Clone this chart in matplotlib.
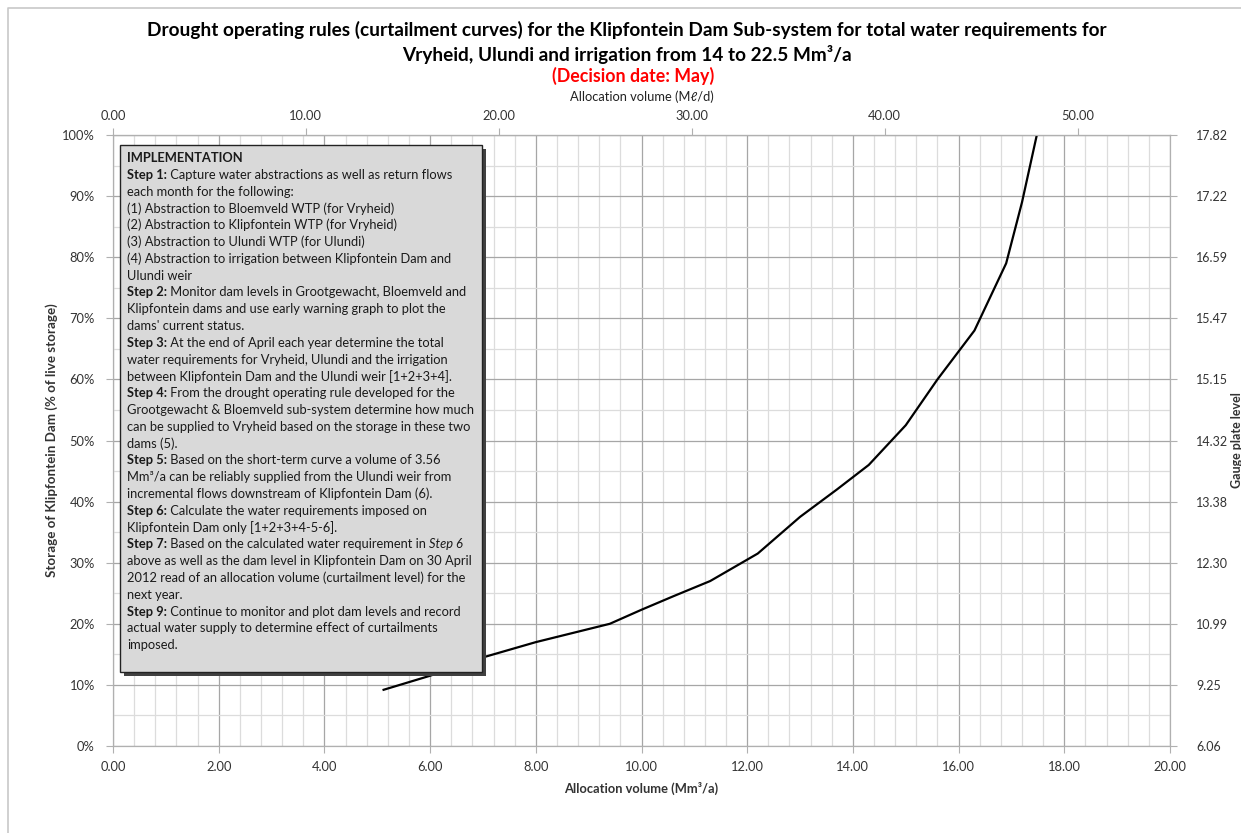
import matplotlib
matplotlib.use("Agg")
import matplotlib.pyplot as plt
from matplotlib.patches import Rectangle
from matplotlib.lines import Line2D
from matplotlib.text import Annotation
from matplotlib.ticker import MultipleLocator, FuncFormatter

plt.rcParams['font.family'] = ['Lato', 'DejaVu Sans']

# curtailment curve: allocation volume (Mm3/a) vs storage (% of live storage)
alloc = [5.12, 6.0, 7.0, 8.0, 9.4, 10.0, 10.6, 11.3, 12.2, 13.0, 13.7, 14.3,
         15.0, 15.6, 16.3, 16.9, 17.2, 17.48]
storage = [9.2, 11.5, 14.5, 17.0, 20.0, 22.3, 24.5, 27.0, 31.5, 37.5, 42.0, 46.0,
           52.5, 60.0, 68.0, 79.0, 89.0, 100.0]

storage_ticks = [0, 10, 20, 30, 40, 50, 60, 70, 80, 90, 100]
gauge_labels = ["6.06", "9.25", "10.99", "12.30", "13.38", "14.32", "15.15",
                "15.47", "16.59", "17.22", "17.82"]

# (bold part, normal part, italic tail)
box_lines = [
    ("IMPLEMENTATION", "", ""),
    ("Step 1:", " Capture water abstractions as well as return flows", ""),
    ("", "each month for the following:", ""),
    ("", "(1) Abstraction to Bloemveld WTP (for Vryheid)", ""),
    ("", "(2) Abstraction to Klipfontein WTP (for Vryheid)", ""),
    ("", "(3) Abstraction to Ulundi WTP (for Ulundi)", ""),
    ("", "(4) Abstraction to irrigation between Klipfontein Dam and", ""),
    ("", "Ulundi weir", ""),
    ("Step 2:", " Monitor dam levels in Grootgewacht, Bloemveld and", ""),
    ("", "Klipfontein dams and use early warning graph to plot the", ""),
    ("", "dams' current status.", ""),
    ("Step 3:", " At the end of April each year determine the total", ""),
    ("", "water requirements for Vryheid, Ulundi and the irrigation", ""),
    ("", "between Klipfontein Dam and the Ulundi weir [1+2+3+4].", ""),
    ("Step 4:", " From the drought operating rule developed for the", ""),
    ("", "Grootgewacht & Bloemveld sub-system determine how much", ""),
    ("", "can be supplied to Vryheid based on the storage in these two", ""),
    ("", "dams (5).", ""),
    ("Step 5:", " Based on the short-term curve a volume of 3.56", ""),
    ("", "Mm\u00b3/a can be reliably supplied from the Ulundi weir from", ""),
    ("", "incremental flows downstream of Klipfontein Dam (6).", ""),
    ("Step 6:", " Calculate the water requirements imposed on", ""),
    ("", "Klipfontein Dam only [1+2+3+4-5-6].", ""),
    ("Step 7:", " Based on the calculated water requirement in ", "Step 6"),
    ("", "above as well as the dam level in Klipfontein Dam on 30 April", ""),
    ("", "2012 read of an allocation volume (curtailment level) for the", ""),
    ("", "next year.", ""),
    ("Step 9:", " Continue to monitor and plot dam levels and record", ""),
    ("", "actual water supply to determine effect of curtailments", ""),
    ("", "imposed.", ""),
]

W, H = 1241, 833
fig = plt.figure(figsize=(W / 100, H / 100), dpi=100)
ax = fig.add_axes([113 / W, 1 - 746 / H, (1170 - 113) / W, (746 - 135) / H])

# outer chart border (left and top edges visible)
fig.add_artist(Line2D([8 / W, 8 / W, 1], [0, 1 - 8 / H, 1 - 8 / H], transform=fig.transFigure,
                      color="#c8c8c8", linewidth=1.2))

ax.plot(alloc, storage, color="black", linewidth=1.6, zorder=3)
ax.set_xlim(0, 20)
ax.set_ylim(0, 100)
ax.xaxis.set_major_locator(MultipleLocator(2))
ax.xaxis.set_minor_locator(MultipleLocator(0.4))
ax.yaxis.set_major_locator(MultipleLocator(10))
ax.yaxis.set_minor_locator(MultipleLocator(5))
ax.xaxis.set_major_formatter(FuncFormatter(lambda v, p: "%.2f" % v))
ax.yaxis.set_major_formatter(FuncFormatter(lambda v, p: "%d%%" % v))
ax.grid(which="major", color="#a6a6a6", linewidth=0.9)
ax.grid(which="minor", color="#dcdcdc", linewidth=0.9)
ax.set_axisbelow(True)
ax.tick_params(which="both", length=0, labelsize=9.3, colors="#333333", pad=8)
ax.tick_params(axis="x", which="major", length=5, color="#b0b0b0", pad=6)
ax.tick_params(axis="y", which="major", length=5, color="#b0b0b0")
for s in ax.spines.values():
    s.set_color("#b0b0b0")
ax.set_xlabel("Allocation volume (Mm\u00b3/a)", fontsize=9.3, fontweight="bold", color="#333333", labelpad=6)
ax.set_ylabel("Storage of Klipfontein Dam (% of live storage)", fontsize=9.6, fontweight="bold",
              color="#333333")
ax.yaxis.set_label_coords((58 - 113) / (1170 - 113), 0.5)

# top axis in Ml/d
top = ax.secondary_xaxis("top", functions=(lambda v: v * 1000 / 365, lambda v: v * 365 / 1000))
top.set_xticks([0, 10, 20, 30, 40, 50])
top.xaxis.set_major_formatter(FuncFormatter(lambda v, p: "%.2f" % v))
top.tick_params(length=5, color="#b0b0b0", labelsize=9.3, labelcolor="#333333", pad=4)
top.spines["top"].set_color("#b0b0b0")
top.set_xlabel("Allocation volume (M\u2113/d)", fontsize=9.3, color="#222222", labelpad=7)

# right axis: gauge plate level
right = ax.twinx()
right.set_ylim(0, 100)
right.set_yticks(storage_ticks)
right.set_yticklabels(gauge_labels)
right.tick_params(length=5, color="#b0b0b0", labelsize=9.0, labelcolor="#333333", pad=14)
for s in right.spines.values():
    s.set_color("#b0b0b0")
right.set_ylabel("Gauge plate level", fontsize=9.0, fontweight="bold", color="#333333")
right.yaxis.set_label_coords((1231 - 113) / (1170 - 113), 0.5)

# titles
fig.text(627 / W, 1 - 30 / H, "Drought operating rules (curtailment curves) for the Klipfontein Dam Sub-system "
         "for total water requirements for", ha="center", va="center", fontsize=13.7, fontweight="bold")
fig.text(627 / W, 1 - 54 / H, "Vryheid, Ulundi and irrigation from 14 to 22.5 Mm\u00b3/a",
         ha="center", va="center", fontsize=13.7, fontweight="bold")
fig.text(633 / W, 1 - 76 / H, "(Decision date: May)", ha="center", va="center", fontsize=12.8,
         fontweight="bold", color="#ff0000")

# implementation text box
bx0, by0, bx1, by1 = 120, 145, 482, 672
fig.patches.append(Rectangle((bx0 / W + 4 / W, 1 - by1 / H - 4 / H), (bx1 - bx0) / W, (by1 - by0) / H,
                             transform=fig.transFigure, facecolor="#404040", edgecolor="none", zorder=4))
fig.patches.append(Rectangle((bx0 / W, 1 - by1 / H), (bx1 - bx0) / W, (by1 - by0) / H,
                             transform=fig.transFigure, facecolor="#d9d9d9", edgecolor="#222222",
                             linewidth=1.0, zorder=5))
fs = 9.3
line_h = 16.8
for i, (bold, normal, ital) in enumerate(box_lines):
    y = 1 - (158 + i * line_h) / H
    if bold:
        t = fig.text(127 / W, y, bold, fontsize=fs, fontweight="bold",
                     va="center", ha="left", color="#1a1a1a", zorder=6)
        if normal:
            t = fig.add_artist(Annotation(normal, xy=(1, 0), xycoords=t, va="bottom", ha="left",
                                          fontsize=fs, color="#1a1a1a", zorder=6))
    else:
        t = fig.text(127 / W, y, normal, fontsize=fs, va="center", ha="left", color="#1a1a1a", zorder=6)
    if ital:
        fig.add_artist(Annotation(ital, xy=(1, 0), xycoords=t, va="bottom", ha="left", fontsize=fs,
                                  fontstyle="italic", color="#1a1a1a", zorder=6))

fig.savefig("out.png", dpi=100)
